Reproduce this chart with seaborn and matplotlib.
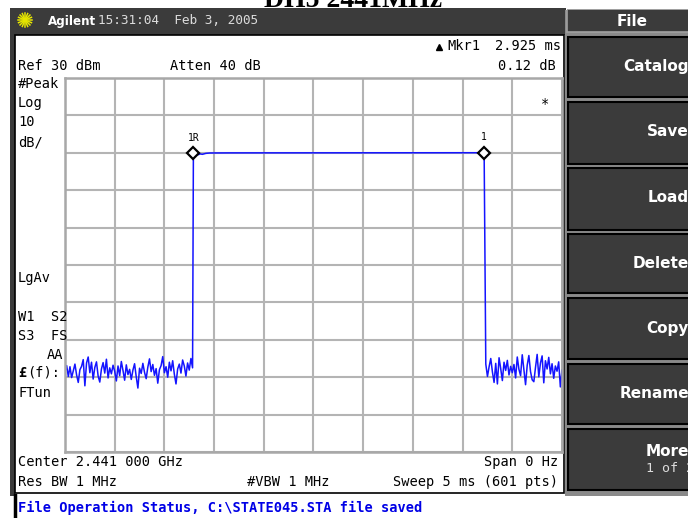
import numpy as np
import pandas as pd
import matplotlib
matplotlib.use("Agg")
import matplotlib.pyplot as plt
from matplotlib.patches import Rectangle
import seaborn as sns

# Zero-span sweep: 5 ms over 601 points, Ref 30 dBm, 10 dB/div
SWEEP_MS = 5.0
SWEEP_POINTS = 601
REF_DBM = 30
DB_PER_DIV = 10

# Noise floor before the burst (every other sweep point)
left_idx = list(range(0, 155, 2))
left_dbm = [
    -48.6, -46.9, -49.8, -47.2, -50.1, -48.3, -46.5, -49.4, -51.4, -48.0,
    -47.1, -45.3, -52.3, -46.2, -44.6, -48.8, -46.0, -50.5, -47.4, -45.9,
    -49.7, -51.3, -47.8, -46.1, -48.9, -45.2, -50.2, -47.5, -49.1, -46.8,
    -48.4, -51.0, -47.0, -49.6, -45.8, -48.2, -50.8, -46.7, -49.3, -47.9,
    -50.6, -48.1, -46.4, -49.9, -52.9, -47.6, -49.0, -46.3, -48.7, -50.4,
    -47.3, -45.1, -48.5, -46.6, -49.5, -47.7, -51.6, -48.0, -46.9, -44.5,
    -48.8, -47.2, -50.0, -46.0, -48.3, -45.6, -49.2, -51.8, -47.8, -46.5,
    -48.9, -45.4, -47.0, -49.7, -46.2, -48.1, -45.0, -47.5,
]

# Burst plateau
plateau_idx = [155, 157, 159, 161, 163, 166, 170, 175, 200, 300, 400, 506]
plateau_dbm = [9.90, 9.55, 9.65, 9.50, 9.70, 9.60, 9.85, 9.95, 9.98, 10.0, 10.0, 10.02]

# Noise floor after the burst (every other sweep point)
right_idx = list(range(508, 601, 2))
right_dbm = [
    -46.5, -49.8, -47.2, -45.0, -48.6, -51.4, -46.3, -51.8, -44.8, -47.7,
    -50.9, -46.0, -48.2, -45.5, -49.4, -47.1, -48.8, -46.6, -50.2, -44.6,
    -47.9, -49.6, -44.0, -48.0, -52.0, -46.8, -44.2, -48.5, -50.7, -51.2,
    -47.4, -43.9, -49.9, -46.2, -44.3, -51.5, -45.6, -47.8, -44.7, -49.1,
    -46.4, -50.3, -47.0, -48.4, -45.9, -52.6, -48.1,
]

# Markers: reference marker 1R and delta marker 1
marker_names = ["1R", "1"]
marker_idx = [155, 506]
marker_dbm = [9.90, 10.02]

MS_PER_POINT = SWEEP_MS / (SWEEP_POINTS - 1)

trace = pd.DataFrame({
    "idx": left_idx + plateau_idx + right_idx,
    "dbm": left_dbm + plateau_dbm + right_dbm,
})
trace["ms"] = trace["idx"] * MS_PER_POINT

W, H = 688, 518
fig = plt.figure(figsize=(W / 100, H / 100), dpi=100)
fig.patch.set_facecolor("white")

# Background layer in pixel coordinates
bg = fig.add_axes([0, 0, 1, 1], zorder=0)
bg.set_xlim(0, W)
bg.set_ylim(H, 0)
bg.axis("off")

DARK = "#3b3b3b"
# title bar
bg.add_patch(Rectangle((10, 8), 556, 27, facecolor=DARK, edgecolor="none"))
# left frame strip
bg.add_patch(Rectangle((10, 8), 5, 488, facecolor=DARK, edgecolor="none"))
# screen area
bg.add_patch(Rectangle((15, 35), 549, 458, facecolor="white", edgecolor="black", lw=1.2))
# status line edge
bg.plot([15, 15], [495, 518], color="black", lw=2.5)

# softkey panel
bg.add_patch(Rectangle((565, 8), 130, 488, facecolor="#8a8a8a", edgecolor="none"))
bg.add_patch(Rectangle((567, 9), 125, 23, facecolor=DARK, edgecolor="#a0a0a0", lw=1.2))
key_tops = [37, 102, 168, 234, 298, 364, 429]
key_bottoms = [97, 164, 230, 293, 359, 424, 490]
for t, b in zip(key_tops, key_bottoms):
    bg.add_patch(Rectangle((568, t), 125, b - t, facecolor=DARK, edgecolor="black", lw=1.5))

# instrument logo starburst
for ang in np.linspace(0, np.pi, 8, endpoint=False):
    dx, dy = 7 * np.cos(ang), 7 * np.sin(ang)
    bg.plot([25 - dx, 25 + dx], [20 - dy, 20 + dy], color="#e6e600", lw=1.1)

# Trace axes
ax = fig.add_axes([65 / W, (H - 452) / H, 497 / W, 374 / H], zorder=2)
ax.set_facecolor("white")
sns.lineplot(data=trace, x="ms", y="dbm", ax=ax, sort=False, estimator=None,
             color="#1414ff", lw=1.1)
ax.plot([i * MS_PER_POINT for i in marker_idx], marker_dbm, ls="none", marker="D",
        ms=6, mfc="white", mec="black", mew=1.6, zorder=5)
for name, i, v in zip(marker_names, marker_idx, marker_dbm):
    ax.annotate(name, (i * MS_PER_POINT, v), xytext=(0, 7.5), textcoords="offset points",
                ha="center", va="bottom", fontsize=7, family="DejaVu Sans Mono")
ax.set_xlim(0, SWEEP_MS)
ax.set_ylim(REF_DBM - 10 * DB_PER_DIV, REF_DBM)
ax.set_xticks(np.linspace(0, SWEEP_MS, 11))
ax.set_yticks(np.arange(REF_DBM - 10 * DB_PER_DIV, REF_DBM + 1, DB_PER_DIV))
ax.grid(True, color="#b4b4b4", lw=1.5)
ax.set_axisbelow(True)
ax.tick_params(length=0, labelbottom=False, labelleft=False)
ax.set_xlabel("")
ax.set_ylabel("")
for s in ax.spines.values():
    s.set_color("#a8a8a8")
    s.set_linewidth(1.8)
ax.text(0.965, 0.93, "*", transform=ax.transAxes, ha="center", va="center",
        fontsize=10, family="DejaVu Sans Mono")

# Text overlay in pixel coordinates
ov = fig.add_axes([0, 0, 1, 1], zorder=3)
ov.set_xlim(0, W)
ov.set_ylim(H, 0)
ov.axis("off")
ov.patch.set_alpha(0)

MONO = "DejaVu Sans Mono"
FS = 9.8


def txt(x, y, s, ha="left", **kw):
    kw.setdefault("fontsize", FS)
    kw.setdefault("family", MONO)
    ov.text(x, y, s, ha=ha, va="center", **kw)


# page title above the instrument screen, cut by the top edge
ov.text(353, 7, "DH5 2441MHz", ha="center", va="baseline", fontsize=20,
        family="Liberation Serif", fontweight="bold", clip_on=False)
ov.add_patch(Rectangle((0, 8), W, 2, facecolor="white", edgecolor="none"))
ov.add_patch(Rectangle((10, 8), 556, 2, facecolor=DARK, edgecolor="none"))
ov.add_patch(Rectangle((567, 9), 125, 1, facecolor="#a0a0a0", edgecolor="none"))

ov.text(48, 21, "Agilent", ha="left", va="center", color="white", fontsize=8.6,
        family="DejaVu Sans", fontweight="bold")
ov.text(98, 21, "15:31:04  Feb 3, 2005", ha="left", va="center", color="#dcdcdc",
        fontsize=9.2, family=MONO)

txt(561, 46, "2.925 ms", ha="right")
txt(480, 46, "Mkr1", ha="right")
ov.plot([439], [47], marker="^", color="black", ms=4.5)
txt(556, 66, "0.12 dB", ha="right")
txt(18, 66, "Ref 30 dBm")
txt(170, 66, "Atten 40 dB")
txt(18, 84, "#Peak")
txt(18, 103, "Log")
txt(18, 122, "10")
txt(18, 142, "dB/")
txt(18, 278, "LgAv")
txt(18, 317, "W1  S2")
txt(18, 336, "S3  FS")
txt(63, 355, "AA", ha="right")
ov.text(18, 373, "£", ha="left", va="center", fontsize=FS, family=MONO, fontweight="bold")
txt(27, 373, "(f):")
txt(18, 393, "FTun")
txt(18, 462, "Center 2.441 000 GHz")
txt(558, 462, "Span 0 Hz", ha="right")
txt(18, 482, "Res BW 1 MHz")
txt(247, 482, "#VBW 1 MHz")
txt(558, 482, "Sweep 5 ms (601 pts)", ha="right")
ov.text(18, 508, "File Operation Status, C:\\STATE045.STA file saved", ha="left",
        va="center", fontsize=FS, family=MONO, fontweight="bold", color="#0000e6")

# softkey labels
ov.text(632, 21, "File", ha="center", va="center", color="white", fontsize=11,
        family="DejaVu Sans", fontweight="bold")
key_labels = ["Catalog", "Save", "Load", "Delete", "Copy", "Rename", "More"]
key_y = [67, 132, 198, 263, 328, 394, 451]
for lab, y in zip(key_labels, key_y):
    ov.text(689, y, lab, ha="right", va="center", color="white", fontsize=11,
            family="DejaVu Sans", fontweight="bold")
ov.text(694, 468, "1 of 2", ha="right", va="center", color="#dddddd", fontsize=9.5,
        family=MONO)

fig.savefig("out.png", dpi=100, facecolor="white")
